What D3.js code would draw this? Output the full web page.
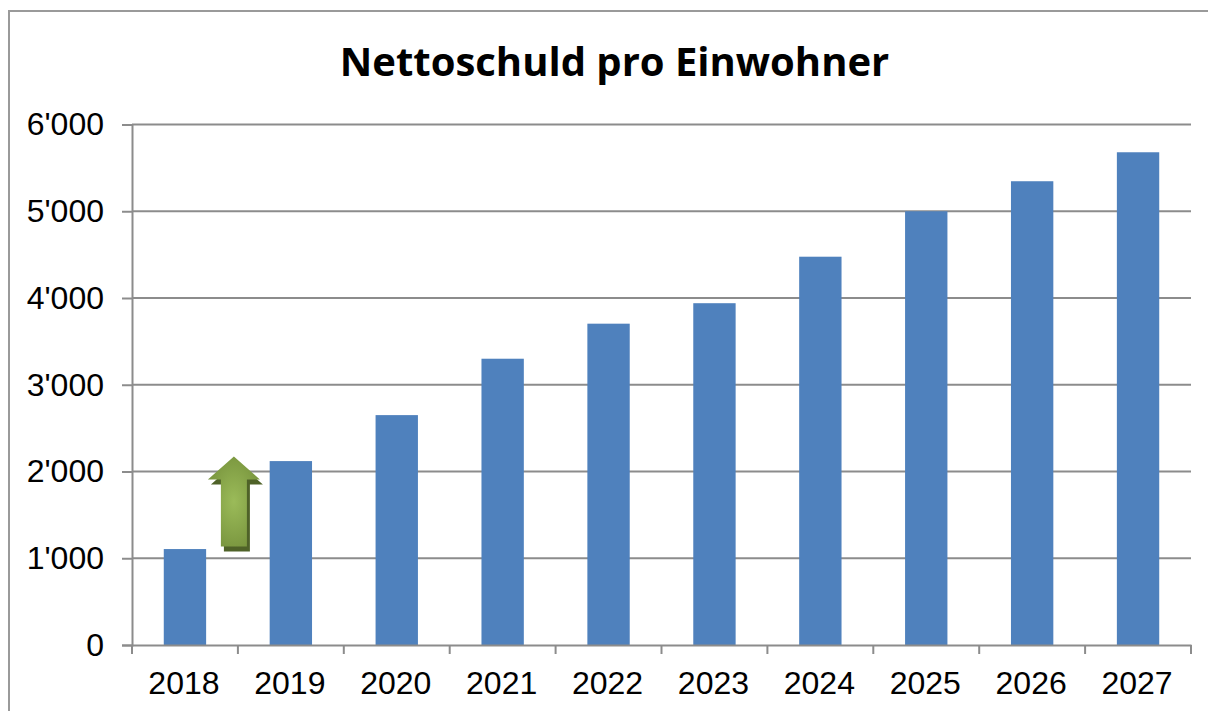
<!DOCTYPE html>
<html>
<head>
<meta charset="utf-8">
<script src="https://cdn.jsdelivr.net/npm/d3@7"></script>
<style>
  html, body { margin: 0; padding: 0; background: #fff; overflow: hidden; }
</style>
</head>
<body>
<div id="chart"></div>
<script>
// --- Data ---
const years = ["2018", "2019", "2020", "2021", "2022", "2023", "2024", "2025", "2026", "2027"];
const netDebt = [1106, 2120, 2650, 3300, 3704, 3940, 4476, 5000, 5346, 5680];
const yTicks = [0, 1000, 2000, 3000, 4000, 5000, 6000];

const width = 1208, height = 711;
const margin = { top: 124.5, right: 17, bottom: 66, left: 132 };
const lineColor = "#8c8c8c";

const svg = d3.select("#chart").append("svg")
  .attr("width", width)
  .attr("height", height)
  .style("display", "block");

// --- Scales ---
const x = d3.scaleBand()
  .domain(years)
  .range([margin.left, width - margin.right])
  .paddingInner(0.6)
  .paddingOuter(0.3);

const xTicksScale = d3.scaleBand()
  .domain(years)
  .range([margin.left, width - margin.right]);

const y = d3.scaleLinear()
  .domain([0, 6000])
  .range([height - margin.bottom, margin.top]);

// --- Chart frame ---
svg.append("path")
  .attr("d", `M9,${height + 2}V11H${width + 2}`)
  .attr("fill", "none")
  .attr("stroke", "#9a9a9a")
  .attr("stroke-width", 2);

// --- Title ---
svg.append("text")
  .attr("x", 614.5)
  .attr("y", 76)
  .attr("text-anchor", "middle")
  .attr("font-family", "'Open Sans', sans-serif")
  .attr("font-weight", "bold")
  .attr("font-size", 40)
  .attr("fill", "#000")
  .text("Nettoschuld pro Einwohner");

// --- Gridlines ---
svg.append("g")
  .selectAll("line")
  .data(yTicks.filter(d => d > 0))
  .enter()
  .append("line")
  .attr("x1", margin.left)
  .attr("x2", width - margin.right)
  .attr("y1", d => y(d))
  .attr("y2", d => y(d))
  .attr("stroke", lineColor)
  .attr("stroke-width", 2);

// --- Bars ---
svg.append("g")
  .selectAll("rect")
  .data(years)
  .enter()
  .append("rect")
  .attr("x", d => x(d))
  .attr("y", (d, i) => y(netDebt[i]))
  .attr("width", x.bandwidth())
  .attr("height", (d, i) => y(0) - y(netDebt[i]))
  .attr("fill", "#4f81bd");

// --- Axes ---
const yAxis = d3.axisLeft(y)
  .tickValues(yTicks)
  .tickSize(10)
  .tickPadding(18)
  .tickFormat(d => d3.format(",")(d).replace(",", "'"));

const yAxisG = svg.append("g")
  .attr("transform", `translate(${margin.left},0)`)
  .call(yAxis);

const xAxis = d3.axisBottom(xTicksScale)
  .tickSize(0)
  .tickPadding(26);

const xAxisG = svg.append("g")
  .attr("transform", `translate(0,${y(0)})`)
  .call(xAxis);

// tick marks sit on the category boundaries, not the centres
xAxisG.selectAll(".boundary")
  .data(years.concat("end"))
  .enter()
  .append("line")
  .attr("class", "boundary")
  .attr("x1", d => d === "end" ? xTicksScale.range()[1] : xTicksScale(d))
  .attr("x2", d => d === "end" ? xTicksScale.range()[1] : xTicksScale(d))
  .attr("y1", 0)
  .attr("y2", 9)
  .attr("stroke", lineColor)
  .attr("stroke-width", 2);

[yAxisG, xAxisG].forEach(g => {
  g.selectAll(".domain, .tick line")
    .attr("stroke", lineColor)
    .attr("stroke-width", 2);
  g.selectAll("text")
    .attr("font-family", "'Liberation Sans', Arial, sans-serif")
    .attr("font-size", 32)
    .attr("fill", "#000");
});

xAxisG.selectAll(".tick text").attr("dx", -1);

// --- Arrow between the first two bars ---
const defs = svg.append("defs");
const grad = defs.append("radialGradient")
  .attr("id", "arrowFill")
  .attr("cx", "50%")
  .attr("cy", "50%")
  .attr("r", "60%");
grad.append("stop").attr("offset", "0%").attr("stop-color", "#9bbb59");
grad.append("stop").attr("offset", "100%").attr("stop-color", "#76923c");

const arrowX = (x(years[0]) + x.bandwidth() + x(years[1])) / 2 - 4;
const arrowPath = "M0,0L26,23H13V90H-13V23H-26Z";

const arrow = svg.append("g")
  .attr("transform", `translate(${arrowX},${y(2000) - 15})`);
arrow.append("path")
  .attr("d", arrowPath)
  .attr("transform", "translate(3,5)")
  .attr("fill", "#4f6228");
arrow.append("path")
  .attr("d", arrowPath)
  .attr("fill", "url(#arrowFill)");
</script>
</body>
</html>
